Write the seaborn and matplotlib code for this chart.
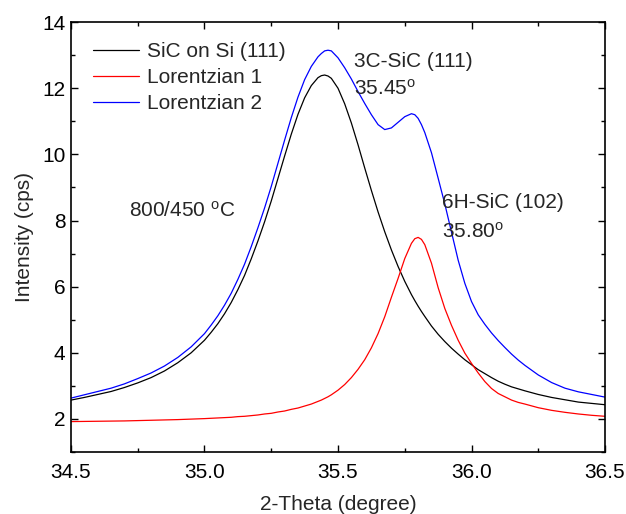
import numpy as np
import pandas as pd
import matplotlib
matplotlib.use("Agg")
import matplotlib.pyplot as plt
import seaborn as sns
from matplotlib.ticker import MultipleLocator

# ---- data ----
theta = [34.5, 34.55, 34.6, 34.65, 34.7, 34.75, 34.8, 34.85, 34.9, 34.95, 35.0,
         35.025, 35.05, 35.075, 35.1, 35.125, 35.15, 35.175, 35.2, 35.225, 35.25,
         35.275, 35.3, 35.325, 35.35, 35.375, 35.4, 35.425, 35.4375, 35.45, 35.4625,
         35.475, 35.5, 35.525, 35.55, 35.575, 35.6, 35.625, 35.65, 35.675, 35.7,
         35.725, 35.75, 35.775, 35.7875, 35.8, 35.8125, 35.825, 35.85, 35.875, 35.9,
         35.925, 35.95, 35.975, 36.0, 36.025, 36.05, 36.075, 36.1, 36.125, 36.15,
         36.175, 36.2, 36.25, 36.3, 36.35, 36.4, 36.45, 36.5]

sic_on_si = [2.57, 2.65, 2.74, 2.83, 2.95, 3.09, 3.25, 3.45, 3.70, 4.00, 4.38,
             4.62, 4.88, 5.18, 5.52, 5.91, 6.34, 6.84, 7.38, 7.96, 8.59,
             9.27, 9.95, 10.61, 11.21, 11.71, 12.08, 12.32, 12.38, 12.40, 12.37,
             12.30, 12.00, 11.53, 10.95, 10.29, 9.59, 8.91, 8.26, 7.66, 7.11,
             6.61, 6.16, 5.76, 5.58, 5.41, 5.25, 5.10, 4.81, 4.56, 4.34,
             4.14, 3.96, 3.79, 3.64, 3.49, 3.37, 3.25, 3.14, 3.05, 2.97,
             2.91, 2.85, 2.74, 2.65, 2.58, 2.51, 2.47, 2.43]

lorentz1 = [1.92, 1.925, 1.93, 1.935, 1.94, 1.95, 1.96, 1.97, 1.98, 1.995, 2.01,
            2.02, 2.03, 2.04, 2.05, 2.07, 2.08, 2.10, 2.12, 2.15, 2.17,
            2.21, 2.24, 2.29, 2.33, 2.39, 2.45, 2.53, 2.57, 2.62, 2.67,
            2.73, 2.87, 3.04, 3.25, 3.50, 3.79, 4.15, 4.58, 5.09, 5.68,
            6.25, 6.85, 7.31, 7.45, 7.49, 7.43, 7.27, 6.71, 5.97, 5.34,
            4.83, 4.38, 3.99, 3.68, 3.39, 3.13, 2.92, 2.77, 2.67, 2.57,
            2.50, 2.45, 2.34, 2.26, 2.20, 2.15, 2.11, 2.08]

lorentz2 = [2.63, 2.73, 2.83, 2.93, 3.06, 3.22, 3.39, 3.60, 3.86, 4.18, 4.58,
            4.84, 5.12, 5.44, 5.80, 6.22, 6.68, 7.21, 7.78, 8.38, 9.03,
            9.73, 10.43, 11.11, 11.73, 12.26, 12.66, 12.95, 13.05, 13.13, 13.15,
            13.13, 12.92, 12.62, 12.28, 11.90, 11.54, 11.20, 10.90, 10.75, 10.80,
            10.97, 11.14, 11.23, 11.20, 11.09, 10.90, 10.66, 10.05, 9.28, 8.50,
            7.65, 6.80, 6.10, 5.55, 5.15, 4.86, 4.60, 4.37, 4.16, 3.96,
            3.78, 3.62, 3.33, 3.10, 2.93, 2.82, 2.74, 2.66]

series_names = ["SiC on Si (111)", "Lorentzian 1", "Lorentzian 2"]
series_colors = ["#000000", "#ff0000", "#0000ff"]

df = pd.concat([
    pd.DataFrame({"theta": theta, "intensity": vals, "series": name})
    for name, vals in zip(series_names, [sic_on_si, lorentz1, lorentz2])
], ignore_index=True)

# ---- style ----
sns.set_style("ticks")
plt.rcParams["font.family"] = ["Liberation Sans", "DejaVu Sans"]
plt.rcParams["mathtext.default"] = "regular"
plt.rcParams["axes.linewidth"] = 1.2

fig = plt.figure(figsize=(6.26, 5.14), dpi=100)
ax = fig.add_axes([0.1134, 0.1206, 0.8531, 0.8364])

sns.lineplot(data=df, x="theta", y="intensity", hue="series",
             palette=dict(zip(series_names, series_colors)),
             hue_order=series_names, linewidth=0.9, ax=ax, sort=False,
             estimator=None)

ax.set_xlim(34.5, 36.5)
ax.set_ylim(1, 14)
ax.xaxis.set_major_locator(MultipleLocator(0.5))
ax.xaxis.set_minor_locator(MultipleLocator(0.25))
ax.yaxis.set_major_locator(MultipleLocator(2))
ax.yaxis.set_minor_locator(MultipleLocator(1))
ax.set_xticklabels([f"{t:.1f}" for t in ax.get_xticks()])
ax.tick_params(which="both", direction="in", top=True, right=True,
               labelsize=15, width=1.0, colors="black")
ax.tick_params(which="major", length=5)
ax.tick_params(which="minor", length=3)
ax.tick_params(axis="x", pad=8)
ax.tick_params(axis="y", pad=4)
for sp in ax.spines.values():
    sp.set_visible(True)
    sp.set_color("black")

ax.set_xlabel("2-Theta (degree)", fontsize=15, labelpad=9)
ax.set_ylabel("Intensity (cps)", fontsize=15, labelpad=6)

handles, labels = ax.get_legend_handles_labels()
ax.legend(handles, labels, loc="upper left", frameon=False, fontsize=15,
          handlelength=2.2, handletextpad=0.36, labelspacing=0.35,
          borderaxespad=0.3, bbox_to_anchor=(0.0144, 0.988))

ax.text(35.56, 12.64, "3C-SiC (111)", fontsize=15, va="baseline", ha="left")
ax.text(35.56, 11.79, "35.45$^{o}$", fontsize=15, va="baseline", ha="left")
ax.text(35.89, 8.38, "6H-SiC (102)", fontsize=15, va="baseline", ha="left")
ax.text(35.89, 7.47, "35.80$^{o}$", fontsize=15, va="baseline", ha="left")
ax.text(34.717, 8.11, "800/450 $^{o}$C", fontsize=15, va="baseline", ha="left")

fig.savefig("out.png", dpi=100)
